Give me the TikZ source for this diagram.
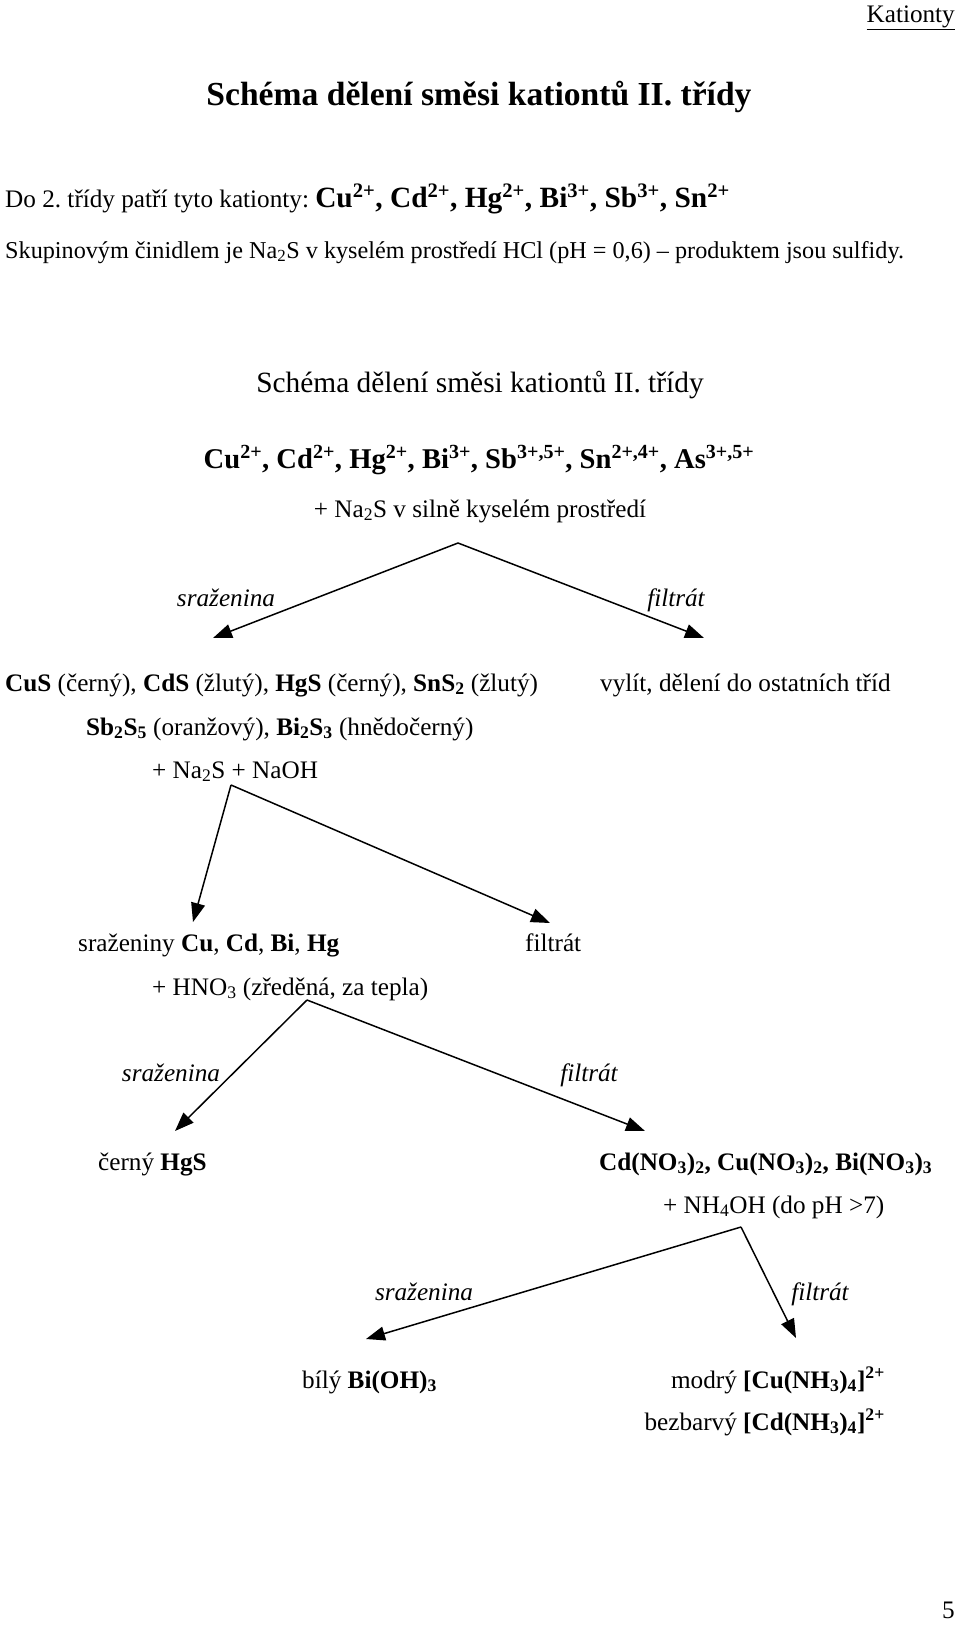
\documentclass[tikz,border=0pt]{standalone}
\usepackage{fontspec}
\setmainfont{Liberation Serif}
\usetikzlibrary{arrows.meta}
\frenchspacing
\tikzset{
  tw/.style={inner sep=0pt, anchor=base west},
  tc/.style={inner sep=0pt, anchor=base},
  te/.style={inner sep=0pt, anchor=base east},
  ftw/.style={font=\fontsize{25.2}{30}\selectfont},
  ffo/.style={font=\fontsize{29.4}{34}\selectfont},
  fsi/.style={font=\fontsize{33.6}{40}\selectfont},
  lab/.style={inner sep=0pt, anchor=base, font=\fontsize{25.2}{30}\selectfont\itshape},
  arr/.style={line width=1.5pt, -{Triangle[length=19pt,width=14pt]}},
}
\begin{document}
\begin{tikzpicture}[x=1pt,y=-1pt]
\useasboundingbox[fill=white] (0,0) rectangle (960,1630);
% header
\node[te,ftw] (hdr) at (955,22) {\underline{Kationty}};
\node[tc,fsi] (title) at (479,105) {\textbf{Schéma dělení směsi kationtů II. třídy}};
\node[tw,ftw] (intro) at (5,207) {Do 2. třídy patří tyto kationty: {\fontsize{29.4}{34}\selectfont\bfseries Cu\textsuperscript{2+}, Cd\textsuperscript{2+}, Hg\textsuperscript{2+}, Bi\textsuperscript{3+}, Sb\textsuperscript{3+}, Sn\textsuperscript{2+}}};
\node[tw,font=\fontsize{24.2}{30}\selectfont] (reag) at (5,258) {Skupinovým činidlem je Na\textsubscript{2}S v kyselém prostředí HCl (pH = 0,6) – produktem jsou sulfidy.};
\node[tc,ffo] (sub) at (480,392) {Schéma dělení směsi kationtů II. třídy};
\node[tc,font=\fontsize{28.6}{34}\selectfont] (ions) at (479,468) {\textbf{Cu\textsuperscript{2+}, Cd\textsuperscript{2+}, Hg\textsuperscript{2+}, Bi\textsuperscript{3+}, Sb\textsuperscript{3+,5+}, Sn\textsuperscript{2+,4+}, As\textsuperscript{3+,5+}}};
\node[tc,ftw] (na2s) at (480,517) {+ Na\textsubscript{2}S v silně kyselém prostředí};
\coordinate (a1) at (458,543);
\coordinate (a1l) at (213,638);
\coordinate (a1r) at (704,638);
\draw[arr] (a1) -- (a1l);
\draw[arr] (a1) -- (a1r);
\node[lab] (s1) at (226,606) {sraženina};
\node[lab] (f1) at (676,606) {filtrát};
% level 2
\node[tw,ftw] (sulf) at (5,691) {\textbf{CuS} (černý), \textbf{CdS} (žlutý), \textbf{HgS} (černý), \textbf{SnS\textsubscript{2}} (žlutý)};
\node[tw,ftw] (vyl) at (600,691) {vylít, dělení do ostatních tříd};
\node[tw,ftw] (sb) at (86,735) {\textbf{Sb\textsubscript{2}S\textsubscript{5}} (oranžový), \textbf{Bi\textsubscript{2}S\textsubscript{3}} (hnědočerný)};
\node[tw,ftw] (naoh) at (152,778) {+ Na\textsubscript{2}S + NaOH};
\coordinate (a2) at (231,785);
\coordinate (a2l) at (193,922);
\coordinate (a2r) at (550,923);
\draw[arr] (a2) -- (a2l);
\draw[arr] (a2) -- (a2r);
% level 3
\node[tw,ftw] (szn) at (78,951) {sraženiny \textbf{Cu}, \textbf{Cd}, \textbf{Bi}, \textbf{Hg}};
\node[tw,ftw] (f2) at (525,951) {filtrát};
\node[tw,ftw] (hno) at (152,995) {+ HNO\textsubscript{3} (zředěná, za tepla)};
\coordinate (a3) at (307,1000);
\coordinate (a3l) at (175,1131);
\coordinate (a3r) at (645,1131);
\draw[arr] (a3) -- (a3l);
\draw[arr] (a3) -- (a3r);
\node[lab] (s3) at (171,1081) {sraženina};
\node[lab] (f3) at (589,1081) {filtrát};
% level 4
\node[tw,ftw] (hgs) at (98,1170) {černý \textbf{HgS}};
\node[tw,ftw] (nit) at (599,1170) {\textbf{Cd(NO\textsubscript{3})\textsubscript{2}, Cu(NO\textsubscript{3})\textsubscript{2}, Bi(NO\textsubscript{3})\textsubscript{3}}};
\node[tw,ftw] (nh4) at (663,1213) {+ NH\textsubscript{4}OH (do pH >7)};
\coordinate (a4) at (741,1227);
\coordinate (a4l) at (366,1339);
\coordinate (a4r) at (796,1338);
\draw[arr] (a4) -- (a4l);
\draw[arr] (a4) -- (a4r);
\node[lab] (s4) at (424,1300) {sraženina};
\node[lab] (f4) at (820,1300) {filtrát};
% level 5
\node[tw,ftw] (bi) at (302,1388) {bílý \textbf{Bi(OH)\textsubscript{3}}};
\node[te,ftw] (cu) at (885,1388) {modrý \textbf{[Cu(NH\textsubscript{3})\textsubscript{4}]\textsuperscript{2+}}};
\node[te,ftw] (cd) at (885,1430) {bezbarvý \textbf{[Cd(NH\textsubscript{3})\textsubscript{4}]\textsuperscript{2+}}};
\node[te,ftw] (pg) at (955,1618) {5};
\end{tikzpicture}
\end{document}
